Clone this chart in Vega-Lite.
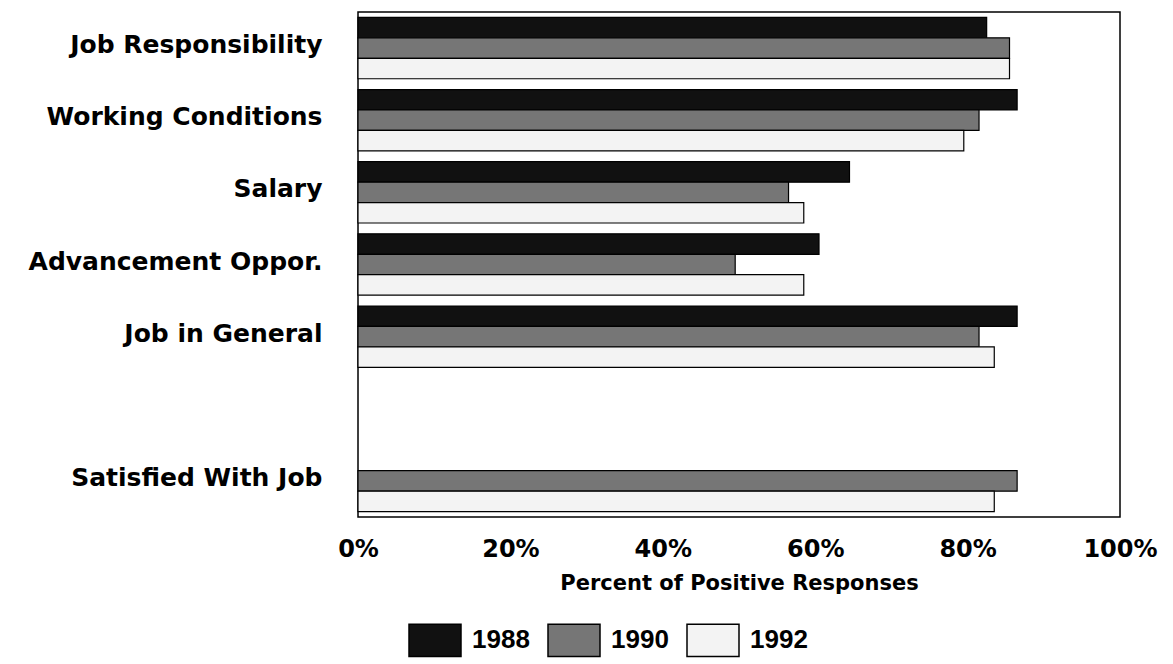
{
  "$schema": "https://vega.github.io/schema/vega-lite/v6.json",
  "width": 762,
  "height": 505,
  "autosize": {"type": "none"},
  "padding": {"left": 358, "top": 12, "right": 53, "bottom": 147},
  "background": "white",
  "config": {
    "view": {"stroke": "black", "strokeWidth": 1.5},
    "font": "DejaVu Sans"
  },
  "data": {
    "values": [
      {"aspect": "Job Responsibility", "year": "1988", "percent": 82.5},
      {"aspect": "Job Responsibility", "year": "1990", "percent": 85.5},
      {"aspect": "Job Responsibility", "year": "1992", "percent": 85.5},
      {"aspect": "Working Conditions", "year": "1988", "percent": 86.5},
      {"aspect": "Working Conditions", "year": "1990", "percent": 81.5},
      {"aspect": "Working Conditions", "year": "1992", "percent": 79.5},
      {"aspect": "Salary", "year": "1988", "percent": 64.5},
      {"aspect": "Salary", "year": "1990", "percent": 56.5},
      {"aspect": "Salary", "year": "1992", "percent": 58.5},
      {"aspect": "Advancement Oppor.", "year": "1988", "percent": 60.5},
      {"aspect": "Advancement Oppor.", "year": "1990", "percent": 49.5},
      {"aspect": "Advancement Oppor.", "year": "1992", "percent": 58.5},
      {"aspect": "Job in General", "year": "1988", "percent": 86.5},
      {"aspect": "Job in General", "year": "1990", "percent": 81.5},
      {"aspect": "Job in General", "year": "1992", "percent": 83.5},
      {"aspect": "Satisfied With Job", "year": "1990", "percent": 86.5},
      {"aspect": "Satisfied With Job", "year": "1992", "percent": 83.5}
    ]
  },
  "mark": {"type": "bar", "stroke": "black", "strokeWidth": 1.2},
  "encoding": {
    "y": {
      "field": "aspect",
      "type": "nominal",
      "scale": {
        "domain": ["Job Responsibility", "Working Conditions", "Salary", "Advancement Oppor.", "Job in General", " ", "Satisfied With Job"],
        "paddingInner": 0.15,
        "paddingOuter": 0.075
      },
      "axis": {
        "title": null,
        "domain": false,
        "ticks": false,
        "labelPadding": 36,
        "labelFont": "DejaVu Sans",
        "labelFontWeight": "bold",
        "labelFontSize": 25,
        "labelColor": "black",
        "labelLimit": 400,
        "labelOffset": -3
      }
    },
    "yOffset": {"field": "year", "type": "nominal", "sort": ["1988", "1990", "1992"]},
    "x": {
      "field": "percent",
      "type": "quantitative",
      "scale": {"domain": [0, 100]},
      "axis": {
        "title": "Percent of Positive Responses",
        "values": [0, 20, 40, 60, 80, 100],
        "labelExpr": "datum.value + '%'",
        "grid": false,
        "domain": false,
        "ticks": false,
        "labelFlush": false,
        "labelPadding": 20,
        "labelFont": "DejaVu Sans",
        "labelFontWeight": "bold",
        "labelFontSize": 24,
        "labelColor": "black",
        "titleFont": "DejaVu Sans",
        "titleFontWeight": "bold",
        "titleFontSize": 21,
        "titleColor": "black",
        "titlePadding": 11
      }
    },
    "fill": {
      "field": "year",
      "type": "nominal",
      "scale": {"domain": ["1988", "1990", "1992"], "range": ["#111111", "#767676", "#f3f3f3"]},
      "legend": {
        "title": null,
        "orient": "none",
        "legendX": 50,
        "legendY": 601,
        "direction": "horizontal",
        "symbolType": "M-1,-0.62L1,-0.62L1,0.62L-1,0.62Z",
        "symbolSize": 2704,
        "symbolStrokeColor": "black",
        "symbolStrokeWidth": 1.5,
        "labelFont": "Liberation Sans",
        "labelFontWeight": "bold",
        "labelFontSize": 26,
        "labelColor": "black",
        "labelOffset": 10,
        "columnPadding": 15
      }
    }
  }
}
